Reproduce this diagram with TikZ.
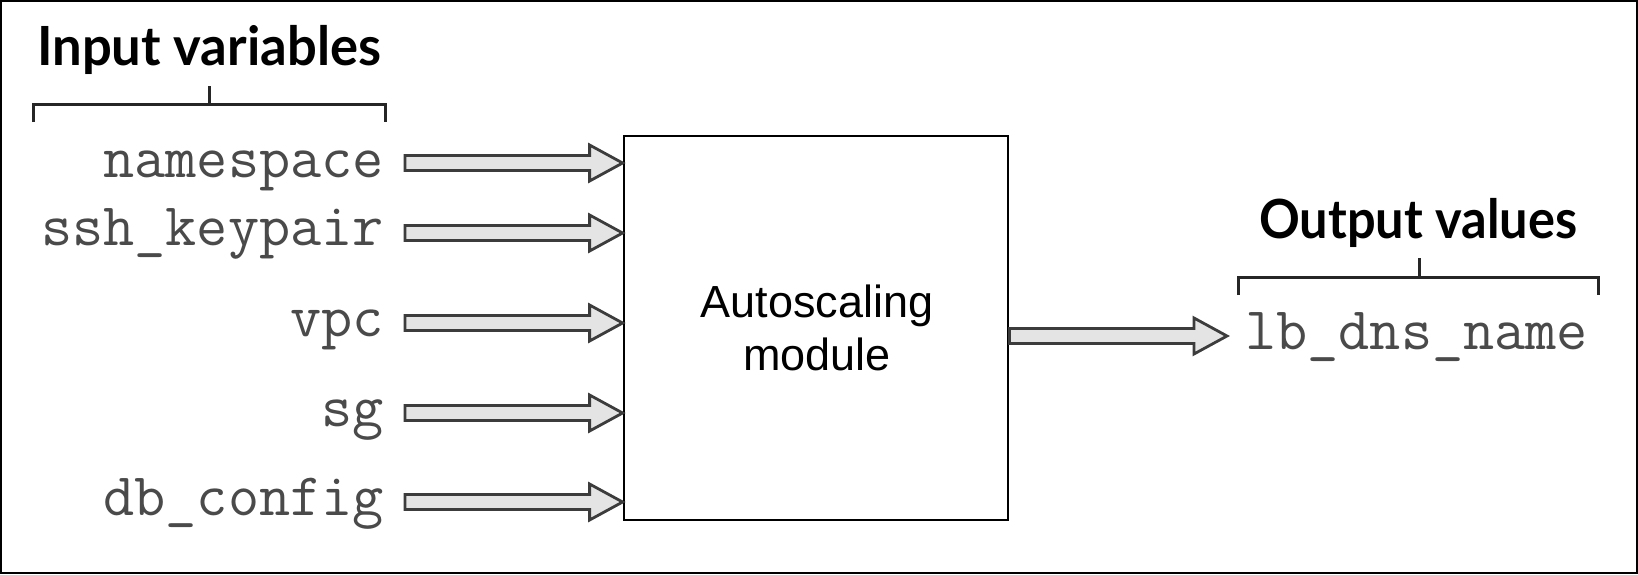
\documentclass[tikz,border=0pt]{standalone}
\usepackage{fontspec}
\usepackage{graphicx}
\setsansfont{Liberation Sans}
\newfontfamily\headfont{Lato}
\usetikzlibrary{calc}
\definecolor{arrowline}{HTML}{3C3C3C}
\definecolor{arrowfill}{HTML}{E4E4E4}
\definecolor{monogray}{HTML}{4A4A4A}
\tikzset{
  fatarrow/.style={draw=arrowline, fill=arrowfill, line width=2.8pt, line join=miter,
    to path={let \p1=(\tikztostart), \p2=(\tikztotarget) in
      (\x1,\y1+7.5pt) -- (\x2-33pt,\y1+7.5pt) -- (\x2-33pt,\y1+18pt) -- (\x2,\y1)
      -- (\x2-33pt,\y1-18pt) -- (\x2-33pt,\y1-7.5pt) -- (\x1,\y1-7.5pt) -- cycle}},
  varlabel/.style={inner sep=0pt, text=monogray, font=\fontsize{60.5}{63}\selectfont\ttfamily},
  heading/.style={inner sep=0pt, anchor=base west, font=\fontsize{54}{60}\selectfont\headfont\bfseries},
  bracketline/.style={line width=3pt, draw=black!85},
  modbox/.style={draw=black, line width=2.8pt, fill=white, minimum width=384pt, minimum height=384pt, inner sep=0pt}
}
\begin{document}
\begin{tikzpicture}[x=1pt,y=-1pt]
\useasboundingbox (0,0) rectangle (1638,574);
\draw[line width=2.5pt] (1,1) rectangle (1637,573);

% headings
\node[heading] (hin) at (37,65) {\resizebox{344pt}{\height}{Input variables}};
\node[heading] (hout) at (1259,238) {\resizebox{318pt}{\height}{Output values}};

% brackets
\draw[bracketline] (33,122) -- (33,104) -- (385,104) -- (385,122);
\draw[bracketline] (209,104) -- (209,86);
\draw[bracketline] (1238,295) -- (1238,277) -- (1598,277) -- (1598,295);
\draw[bracketline] (1419,277) -- (1419,258);

% module box
\node[modbox] (box) at (816,328) {};
\node[font=\fontsize{45}{53}\selectfont\sffamily, align=center, inner sep=0pt] (boxtxt) at (817,328) {Autoscaling\\module};

% input labels
\node[varlabel, anchor=base east] (in1) at (384,177) {namespace};
\node[varlabel, anchor=base east] (in2) at (384,245) {ssh\_keypair};
\node[varlabel, anchor=base east] (in3) at (384,336) {vpc};
\node[varlabel, anchor=base east] (in4) at (384,426) {sg};
\node[varlabel, anchor=base east] (in5) at (384,515) {db\_config};

% arrow start coordinates
\coordinate (a1) at (405,163);
\coordinate (a2) at (405,233);
\coordinate (a3) at (405,323);
\coordinate (a4) at (405,413);
\coordinate (a5) at (405,502);

\draw[fatarrow] (a1) to (box.west |- a1);
\draw[fatarrow] (a2) to (box.west |- a2);
\draw[fatarrow] (a3) to (box.west |- a3);
\draw[fatarrow] (a4) to (box.west |- a4);
\draw[fatarrow] (a5) to (box.west |- a5);

% output
\node[varlabel, anchor=base west] (out1) at (1245,349) {lb\_dns\_name};
\coordinate (o1) at (1227,336);
\draw[fatarrow] (box.east |- o1) to (o1);
\end{tikzpicture}
\end{document}
